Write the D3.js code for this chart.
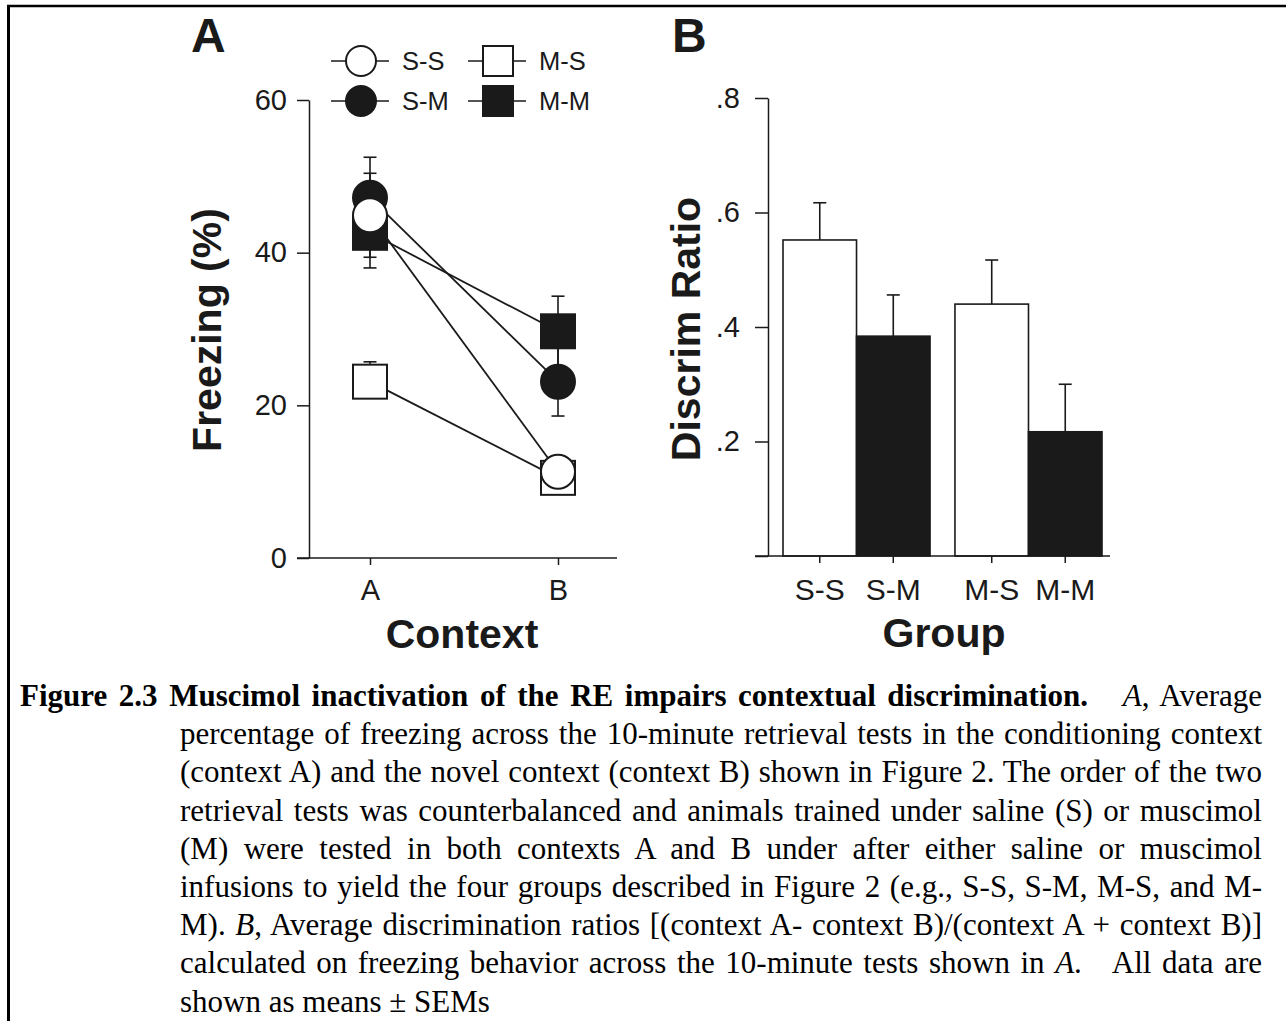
<!DOCTYPE html>
<html>
<head>
<meta charset="utf-8">
<script src="https://cdn.jsdelivr.net/npm/d3@7"></script>
<style>
  body { margin: 0; background: #fff; }
  svg { display: block; }
  .sans { font-family: "Liberation Sans", Arial, Helvetica, sans-serif; }
  .serif { font-family: "Liberation Serif", "Times New Roman", serif; }
</style>
</head>
<body>
<svg id="fig" width="1286" height="1021"></svg>
<script>
// panel A data
var contexts = ['A', 'B'];
var groups = ['S-S', 'S-M', 'M-S', 'M-M'];
var freezeA = [44.9, 47.2, 23.1, 42.6];
var freezeB = [11.3, 23.1, 10.5, 29.7];
var semAUp = [5.5, 5.3, 2.6, 4.6];
var semADown = [5.5, 5.3, 0, 4.6];
var semBUp = [2.0, 4.5, 2.0, 4.6];
var semBDown = [2.0, 4.5, 2.0, 4.6];
var freezeTicks = [0, 20, 40, 60];

// panel B data
var ratio = [0.552, 0.384, 0.440, 0.217];
var ratioSem = [0.065, 0.072, 0.077, 0.083];
var ratioTicks = [0, 0.2, 0.4, 0.6, 0.8];

// marker style per group
var openFill = { 'S-S': true, 'S-M': false, 'M-S': true, 'M-M': false };
var isCircle = { 'S-S': true, 'S-M': true, 'M-S': false, 'M-M': false };

var ink = '#1a1a1a';
var svg = d3.select('#fig');

// frame
svg.append('line').attr('x1', 7).attr('x2', 1286).attr('y1', 6).attr('y2', 6)
  .attr('stroke', '#000').attr('stroke-width', 2.5);
svg.append('line').attr('x1', 8.5).attr('x2', 8.5).attr('y1', 5).attr('y2', 1021)
  .attr('stroke', '#000').attr('stroke-width', 3);

function drawMarker(g, name, cx, cy, r) {
  var fill = openFill[name] ? '#fff' : ink;
  if (isCircle[name]) {
    g.append('circle').attr('cx', cx).attr('cy', cy).attr('r', r)
      .attr('fill', fill).attr('stroke', ink).attr('stroke-width', 2);
  } else {
    g.append('rect').attr('x', cx - r).attr('y', cy - r)
      .attr('width', r * 2).attr('height', r * 2)
      .attr('fill', fill).attr('stroke', ink).attr('stroke-width', 2);
  }
}

// ---------- panel A ----------
var yA = d3.scaleLinear().domain([0, 60]).range([558, 100]);
var xA = d3.scalePoint().domain(contexts).range([370, 558]);
var axisX0 = 309;

var pA = svg.append('g').attr('class', 'sans');

pA.append('text').text('A').attr('x', 191).attr('y', 52)
  .attr('font-size', 48).attr('font-weight', 'bold').attr('fill', ink);

var yAxisA = pA.append('g').attr('transform', 'translate(' + axisX0 + ',0)')
  .call(d3.axisLeft(yA).tickValues(freezeTicks).tickSize(12).tickSizeOuter(0).tickPadding(10));
yAxisA.selectAll('text').attr('font-size', 29).attr('fill', ink).attr('font-family', null);

var xAxisA = pA.append('g').attr('transform', 'translate(0,' + yA(0) + ')')
  .call(d3.axisBottom(xA).tickSize(7).tickSizeOuter(0).tickPadding(14));
xAxisA.select('.domain').remove();
xAxisA.selectAll('text').attr('font-size', 29).attr('fill', ink).attr('font-family', null);
pA.append('line').attr('x1', axisX0 - 12).attr('x2', 617)
  .attr('y1', yA(0)).attr('y2', yA(0)).attr('stroke', ink).attr('stroke-width', 1.5);
pA.selectAll('.domain, .tick line').attr('stroke', ink).attr('stroke-width', 1.5);

pA.append('text').text('Freezing (%)')
  .attr('transform', 'translate(221,330) rotate(-90)')
  .attr('text-anchor', 'middle').attr('font-size', 41).attr('font-weight', 'bold').attr('fill', ink);
pA.append('text').text('Context').attr('x', 462).attr('y', 648)
  .attr('text-anchor', 'middle').attr('font-size', 41).attr('font-weight', 'bold').attr('fill', ink);

// error bars
var capW = 6.5;
function errBar(g, x, y1, y2) {
  g.append('line').attr('x1', x).attr('x2', x).attr('y1', y1).attr('y2', y2)
    .attr('stroke', ink).attr('stroke-width', 1.6);
  g.append('line').attr('x1', x - capW).attr('x2', x + capW).attr('y1', y2).attr('y2', y2)
    .attr('stroke', ink).attr('stroke-width', 1.6);
}
groups.forEach(function (name, i) {
  var xa = xA('A'), xb = xA('B');
  if (semAUp[i] > 0) errBar(pA, xa, yA(freezeA[i]), yA(freezeA[i] + semAUp[i]));
  if (semADown[i] > 0) errBar(pA, xa, yA(freezeA[i]), yA(freezeA[i] - semADown[i]));
  if (semBUp[i] > 0) errBar(pA, xb, yA(freezeB[i]), yA(freezeB[i] + semBUp[i]));
  if (semBDown[i] > 0) errBar(pA, xb, yA(freezeB[i]), yA(freezeB[i] - semBDown[i]));
});

// connecting lines
groups.forEach(function (name, i) {
  pA.append('line')
    .attr('x1', xA('A')).attr('y1', yA(freezeA[i]))
    .attr('x2', xA('B')).attr('y2', yA(freezeB[i]))
    .attr('stroke', ink).attr('stroke-width', 1.8);
});

// markers, drawn so S-S ends on top
['M-S', 'M-M', 'S-M', 'S-S'].forEach(function (name) {
  var i = groups.indexOf(name);
  drawMarker(pA, name, xA('A'), yA(freezeA[i]), 17);
  drawMarker(pA, name, xA('B'), yA(freezeB[i]), 17);
});

// legend
var legCols = { 'S-S': [361, 61], 'S-M': [361, 101], 'M-S': [498, 61], 'M-M': [498, 101] };
groups.forEach(function (name) {
  var p = legCols[name];
  pA.append('line').attr('x1', p[0] - 30).attr('x2', p[0] + 28).attr('y1', p[1]).attr('y2', p[1])
    .attr('stroke', ink).attr('stroke-width', 1.6);
  drawMarker(pA, name, p[0], p[1], 15);
  pA.append('text').text(name).attr('x', p[0] + 41).attr('y', p[1] + 9)
    .attr('font-size', 25.5).attr('fill', ink);
});

// ---------- panel B ----------
var yB = d3.scaleLinear().domain([0, 0.8]).range([556, 98]);
var training = ['S', 'M'];
var xOuter = d3.scaleBand().domain(training).range([783, 1102]).paddingInner(0.145).paddingOuter(0);
var xInner = d3.scaleBand().domain(['S', 'M']).range([0, xOuter.bandwidth()]);
function barX(name) {
  var parts = name.split('-');
  return xOuter(parts[0]) + xInner(parts[1]);
}
var axisX1 = 768;

var pB = svg.append('g').attr('class', 'sans');
pB.append('text').text('B').attr('x', 672).attr('y', 52)
  .attr('font-size', 48).attr('font-weight', 'bold').attr('fill', ink);

var yAxisB = pB.append('g').attr('transform', 'translate(' + axisX1 + ',0)')
  .call(d3.axisLeft(yB).tickValues(ratioTicks).tickSize(13).tickSizeOuter(0).tickPadding(15)
    .tickFormat(function (d) { return d === 0 ? '' : d3.format('.1f')(d).replace(/^0/, ''); }));
yAxisB.selectAll('text').attr('font-size', 29).attr('fill', ink).attr('font-family', null);

// bars
groups.forEach(function (name, i) {
  var x = barX(name), w = xInner.bandwidth();
  var cx = x + w / 2;
  errBar(pB, cx, yB(ratio[i]), yB(ratio[i] + ratioSem[i]));
  pB.append('rect').attr('x', x).attr('y', yB(ratio[i]))
    .attr('width', w).attr('height', yB(0) - yB(ratio[i]))
    .attr('fill', name.split('-')[1] === 'S' ? '#fff' : ink)
    .attr('stroke', ink).attr('stroke-width', 1.6);
});

var xAxisB = pB.append('g').attr('transform', 'translate(0,' + yB(0) + ')');
xAxisB.append('line').attr('x1', axisX1 - 13).attr('x2', 1110).attr('stroke', ink).attr('stroke-width', 1.5);
var catTicks = xAxisB.selectAll('.cat').data(groups).enter().append('g')
  .attr('transform', function (d) { return 'translate(' + (barX(d) + xInner.bandwidth() / 2) + ',0)'; });
catTicks.append('line').attr('y2', 7).attr('stroke', ink).attr('stroke-width', 1.5);
catTicks.append('text').text(function (d) { return d; }).attr('y', 44)
  .attr('text-anchor', 'middle').attr('font-size', 30).attr('fill', ink);
pB.selectAll('.domain, .tick line').attr('stroke', ink).attr('stroke-width', 1.5);

pB.append('text').text('Discrim Ratio')
  .attr('transform', 'translate(700,329) rotate(-90)')
  .attr('text-anchor', 'middle').attr('font-size', 41).attr('font-weight', 'bold').attr('fill', ink);
pB.append('text').text('Group').attr('x', 944).attr('y', 647)
  .attr('text-anchor', 'middle').attr('font-size', 41).attr('font-weight', 'bold').attr('fill', ink);

// ---------- caption ----------
var captionLines = [
  [{ t: 'Figure 2.3 Muscimol inactivation of the RE impairs contextual discrimination.', b: true }, { t: '   ' }, { t: 'A', i: true }, { t: ', Average' }],
  [{ t: 'percentage of freezing across the 10-minute retrieval tests in the conditioning context' }],
  [{ t: '(context A) and the novel context (context B) shown in Figure 2. The order of the two' }],
  [{ t: 'retrieval tests was counterbalanced and animals trained under saline (S) or muscimol' }],
  [{ t: '(M) were tested in both contexts A and B under after either saline or muscimol' }],
  [{ t: 'infusions to yield the four groups described in Figure 2 (e.g., S-S, S-M, M-S, and M-' }],
  [{ t: 'M). ' }, { t: 'B', i: true }, { t: ', Average discrimination ratios [(context A- context B)/(context A + context B)]' }],
  [{ t: 'calculated on freezing behavior across the 10-minute tests shown in ' }, { t: 'A', i: true }, { t: '.   All data are' }],
  [{ t: 'shown as means \u00b1 SEMs' }]
];
var capRight = 1262, capLeft = 20, capIndent = 180;
var capTop = 706, capStep = 38.2;

var cap = svg.append('g').attr('class', 'serif');
captionLines.forEach(function (segs, li) {
  var x0 = li === 0 ? capLeft : capIndent;
  var t = cap.append('text').attr('x', x0).attr('y', capTop + li * capStep)
    .attr('font-size', 31).attr('fill', '#000').style('white-space', 'pre');
  segs.forEach(function (s) {
    t.append('tspan').text(s.t)
      .attr('font-weight', s.b ? 'bold' : null)
      .attr('font-style', s.i ? 'italic' : null);
  });
  if (li < captionLines.length - 1) {
    var full = segs.map(function (s) { return s.t; }).join('');
    var spaces = (full.match(/ /g) || []).length;
    var len = t.node().getComputedTextLength();
    t.attr('word-spacing', (capRight - x0 - len) / spaces);
  }
});
</script>
</body>
</html>
